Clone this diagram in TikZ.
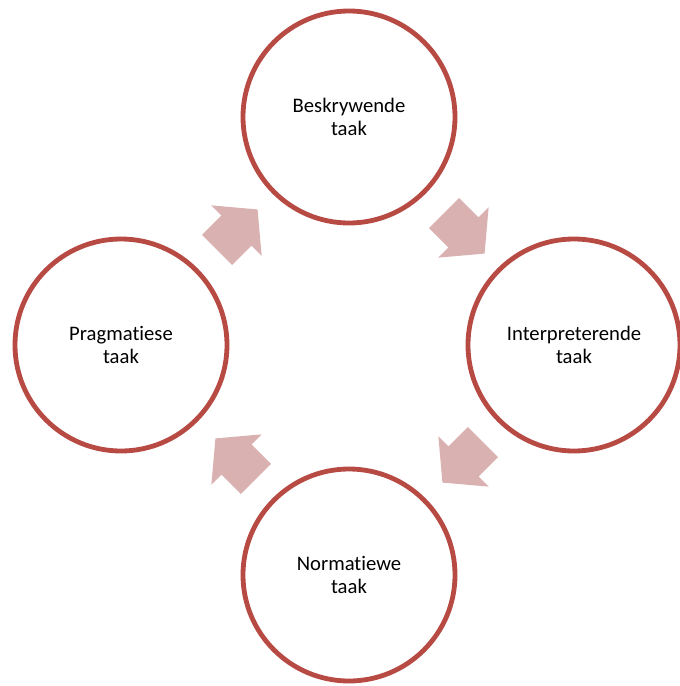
\documentclass[tikz,border=0pt]{standalone}
\usepackage{fontspec}
\setmainfont[Ligatures=CommonOff]{Carlito}
\usepackage{tikz}
\usetikzlibrary{shapes.arrows}
\definecolor{taakRand}{RGB}{184,74,68}
\definecolor{taakPyl}{RGB}{218,177,177}

\begin{document}
\begin{tikzpicture}[
        x=0.75pt, y=-0.75pt,
        % --- STYLE VIR DIE SIRKELS ---
        taak/.style={
            circle,
            draw=taakRand,
            line width=3.6pt,
            fill=white,
            minimum size=159pt,
            inner sep=0pt,
            align=center,
            font=\fontsize{15.5}{17}\selectfont
        },
        % --- STYLE VIR DIE PYLE ---
        pyl/.style={
            single arrow,
            fill=taakPyl,
            draw=none,
            minimum height=43pt,
            minimum width=53pt,
            single arrow head extend=10.75pt,
            single arrow tip angle=100,
            inner xsep=0pt,
            inner ysep=15.75pt
        }
    ]

        % --- RAAM ---
        \useasboundingbox (0,0) rectangle (679,686);

        % --- DIE VIER TAKE ---
        \node[taak] (beskrywend)     at (349,117) {Beskrywende\\taak};
        \node[taak] (interpreterend) at (574,345) {Interpreterende\\taak};
        \node[taak] (normatief)      at (349,575) {Normatiewe\\taak};
        \node[taak] (pragmaties)     at (121,345) {Pragmatiese\\taak};

        % --- PYLE TUSSEN DIE TAKE ---
        \node[pyl, rotate=45]   (pyl1) at (231,236) {};
        \node[pyl, rotate=-45]  (pyl2) at (458,227) {};
        \node[pyl, rotate=-135] (pyl3) at (469,456) {};
        \node[pyl, rotate=135]  (pyl4) at (242,465) {};

    \end{tikzpicture}
\end{document}
